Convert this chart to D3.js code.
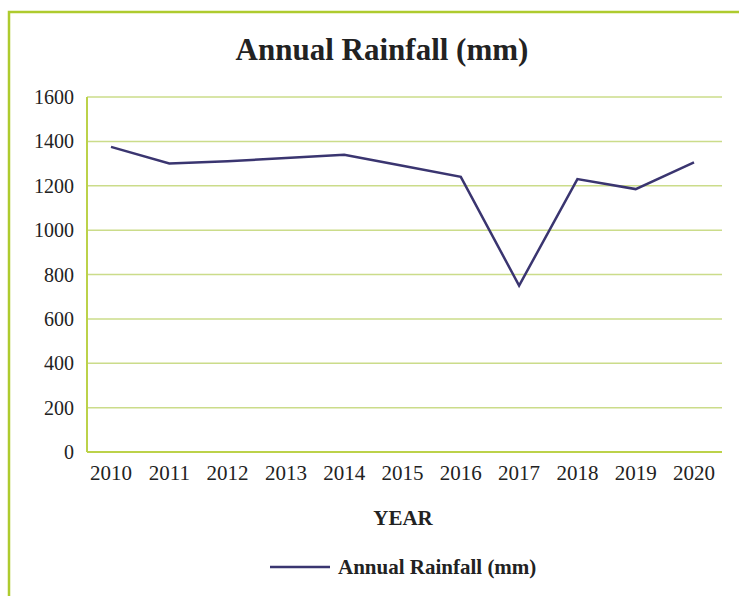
<!DOCTYPE html>
<html>
<head>
<meta charset="utf-8">
<script src="https://cdn.jsdelivr.net/npm/d3@7"></script>
<style>
  body { margin: 0; background: #fff; }
  svg { display: block; }
</style>
</head>
<body>
<div id="chart"></div>
<script>
const years = ["2010", "2011", "2012", "2013", "2014", "2015", "2016", "2017", "2018", "2019", "2020"]
const rainfall = [1375, 1300, 1310, 1325, 1340, 1290, 1240, 750, 1230, 1185, 1305]
const yTicks = [0, 200, 400, 600, 800, 1000, 1200, 1400, 1600]

const width = 739, height = 596
const plot = { left: 87, right: 722, top: 97, bottom: 452 }
const font = "'Liberation Serif', 'DejaVu Serif', 'Times New Roman', serif"

const svg = d3.select("#chart").append("svg")
  .attr("width", width)
  .attr("height", height)
  .style("font-family", font)

// frame
svg.append("rect")
  .attr("x", 9).attr("y", 12)
  .attr("width", width + 20).attr("height", height + 20)
  .attr("fill", "#fff")
  .attr("stroke", "#aecb2e")
  .attr("stroke-width", 2.5)

const x = d3.scalePoint()
  .domain(years)
  .range([111, 694])

const y = d3.scaleLinear()
  .domain([0, 1600])
  .range([plot.bottom, plot.top])

// gridlines
svg.append("g").classed("grid", true)
  .selectAll("line")
  .data(yTicks.filter(d => d > 0))
  .enter().append("line")
  .attr("x1", plot.left).attr("x2", plot.right)
  .attr("y1", d => y(d)).attr("y2", d => y(d))
  .attr("stroke", "#cbdc8a")
  .attr("stroke-width", 1.5)

// axis lines
svg.append("line")
  .attr("x1", plot.left).attr("x2", plot.left)
  .attr("y1", plot.top).attr("y2", plot.bottom)
  .attr("stroke", "#bcd24a").attr("stroke-width", 2)
svg.append("line")
  .attr("x1", plot.left).attr("x2", plot.right)
  .attr("y1", plot.bottom).attr("y2", plot.bottom)
  .attr("stroke", "#bcd24a").attr("stroke-width", 2)

// y tick labels
svg.append("g")
  .attr("text-anchor", "end")
  .selectAll("text")
  .data(yTicks)
  .enter().append("text")
  .attr("x", 74)
  .attr("y", d => y(d))
  .attr("dy", "0.35em")
  .attr("font-size", 20)
  .attr("fill", "#222")
  .text(d => d)

// x tick labels
svg.append("g")
  .attr("text-anchor", "middle")
  .selectAll("text")
  .data(years)
  .enter().append("text")
  .attr("x", d => x(d))
  .attr("y", 480)
  .attr("font-size", 21)
  .attr("fill", "#222")
  .text(d => d)

// line
const line = d3.line()
  .x((d, i) => x(years[i]))
  .y(d => y(d))

svg.append("path")
  .datum(rainfall)
  .attr("d", line)
  .attr("fill", "none")
  .attr("stroke", "#3a3570")
  .attr("stroke-width", 2.5)
  .attr("stroke-linejoin", "miter")

// title
svg.append("text")
  .attr("x", 382).attr("y", 60)
  .attr("text-anchor", "middle")
  .attr("font-size", 31)
  .attr("font-weight", "bold")
  .attr("fill", "#222")
  .text("Annual Rainfall (mm)")

// x axis title
svg.append("text")
  .attr("x", 403).attr("y", 525)
  .attr("text-anchor", "middle")
  .attr("font-size", 21)
  .attr("font-weight", "bold")
  .attr("fill", "#222")
  .text("YEAR")

// legend
svg.append("line")
  .attr("x1", 270).attr("x2", 330)
  .attr("y1", 567).attr("y2", 567)
  .attr("stroke", "#3a3570").attr("stroke-width", 2.5)
svg.append("text")
  .attr("x", 338).attr("y", 574)
  .attr("font-size", 21)
  .attr("font-weight", "bold")
  .attr("fill", "#222")
  .text("Annual Rainfall (mm)")
</script>
</body>
</html>
